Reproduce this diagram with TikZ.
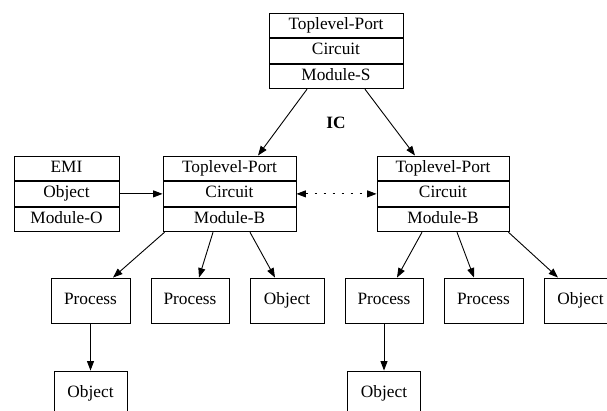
\documentclass[tikz,border=0pt]{standalone}
\usepackage{fontspec}
\setmainfont{Liberation Serif}
\usetikzlibrary{positioning,arrows.meta}

\begin{document}
\begin{tikzpicture}[x=1pt,y=-1pt,>={Triangle[length=9.5pt,width=7pt]},line width=0.9pt,
    cell/.style={draw,inner sep=0pt,text height=11.5pt,text depth=3.5pt,minimum height=24.67pt,font=\fontsize{17.3}{20}\selectfont},
    leaf/.style={draw,inner sep=0pt,text height=11.5pt,text depth=3.5pt,minimum height=45pt,font=\fontsize{17.3}{20}\selectfont}]
            \useasboundingbox (0,0) rectangle (607,410);
            \clip (0,0) rectangle (607,410);

            % system module
            \node[cell,minimum width=134pt] (s1) at (336,25.3) {Toplevel-Port};
            \node[cell,minimum width=134pt] (s2) [below=0pt of s1] {Circuit};
            \node[cell,minimum width=134pt] (s3) [below=0pt of s2] {Module-S};
            \node[font=\fontsize{17.3}{20}\selectfont\bfseries] (ic) at (336,123) {IC};

            % board modules
            \node[cell,minimum width=105pt] (e1) at (66.5,168.3) {EMI};
            \node[cell,minimum width=105pt] (e2) [below=0pt of e1] {Object};
            \node[cell,minimum width=105pt] (e3) [below=0pt of e2] {Module-O};
            \node[cell,minimum width=133pt] (l1) at (229.5,168.3) {Toplevel-Port};
            \node[cell,minimum width=133pt] (l2) [below=0pt of l1] {Circuit};
            \node[cell,minimum width=133pt] (l3) [below=0pt of l2] {Module-B};
            \node[cell,minimum width=132pt] (r1) at (443,168.3) {Toplevel-Port};
            \node[cell,minimum width=132pt] (r2) [below=0pt of r1] {Circuit};
            \node[cell,minimum width=132pt] (r3) [below=0pt of r2] {Module-B};

            % leaves
            \node[leaf,minimum width=79pt] (p1) at (90.5,300.5) {Process};
            \node[leaf,minimum width=78pt] (p2) at (190,300.5) {Process};
            \node[leaf,minimum width=74pt] (o1) at (287,300.5) {Object};
            \node[leaf,minimum width=78pt] (p3) at (384,300.5) {Process};
            \node[leaf,minimum width=79pt] (p4) at (483.5,300.5) {Process};
            \node[leaf,minimum width=73pt] (o2) at (580.5,300.5) {Object};
            \node[leaf,minimum width=73pt] (o3) at (90.5,393.5) {Object};
            \node[leaf,minimum width=73pt] (o4) at (384,393.5) {Object};

            \path[->]
                ([xshift=-29pt]s3.south) edge ([xshift=28.5pt]l1.north)
                ([xshift=29pt]s3.south) edge ([xshift=-28pt]r1.north)
                (e2) edge (l2)
                (l2) edge[<->,dash pattern=on 2pt off 7pt] (r2)
                ([xshift=2pt]l3.south west) edge ([xshift=22.5pt]p1.north)
                ([xshift=-16.5pt]l3.south) edge ([xshift=9pt]p2.north)
                ([xshift=20.5pt]l3.south) edge ([xshift=-12pt]o1.north)
                ([xshift=-21pt]r3.south) edge ([xshift=13pt]p3.north)
                ([xshift=14pt]r3.south) edge ([xshift=-9.5pt]p4.north)
                ([xshift=-1pt]r3.south east) edge ([xshift=-22.5pt]o2.north)
                (p1) edge (o3)
                (p3) edge (o4)
                ;
\end{tikzpicture}
\end{document}
